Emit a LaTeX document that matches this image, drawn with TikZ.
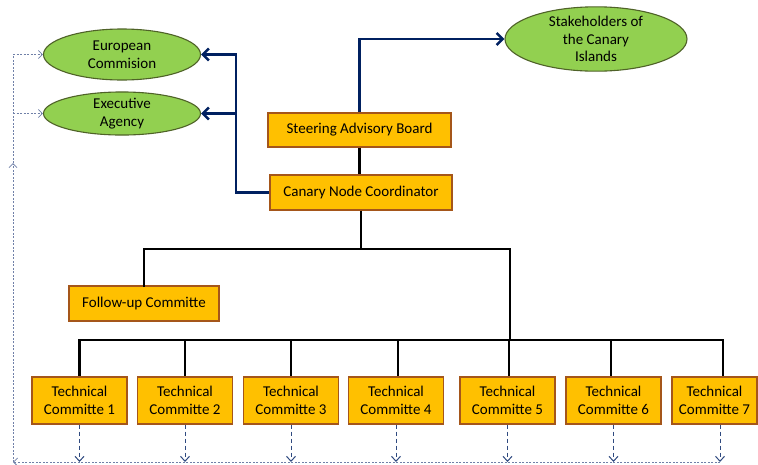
\documentclass[tikz,border=0pt]{standalone}
\usepackage{fontspec}
\setmainfont{Carlito}
\usetikzlibrary{arrows.meta,shapes.geometric}
\definecolor{elfill}{HTML}{92D050}
\definecolor{elborder}{HTML}{4F6228}
\definecolor{bxfill}{HTML}{FFC000}
\definecolor{bxborder}{HTML}{A5561A}
\definecolor{navy}{HTML}{002060}
\definecolor{dotcol}{HTML}{7080A8}
\definecolor{dashcol}{HTML}{2F4A80}
\tikzset{
  ell/.style={ellipse,draw=elborder,fill=elfill,line width=1.1pt,inner sep=0pt,align=center,font=\fontsize{15}{17.5}\selectfont},
  box/.style={rectangle,draw=bxborder,fill=bxfill,line width=1.1pt,inner sep=0pt,align=center,font=\fontsize{15}{18}\selectfont},
  tcbox/.style={box,minimum width=95pt,minimum height=47pt},
  bl/.style={draw=navy,line width=2.6pt},
  blarrow/.style={bl,-{Straight Barb[length=6pt,width=12pt]}},
  blk/.style={draw=black,line width=2.6pt},
  dotl/.style={draw=dotcol,line width=0.8pt,dash pattern=on 2pt off 1.5pt},
  dotarrow/.style={dotl,-{Straight Barb[length=4pt,width=8pt]}},
  dasharrow/.style={draw=dashcol,line width=1pt,dash pattern=on 4pt off 3pt,-{Straight Barb[length=5pt,width=9pt]}}
}
\begin{document}
\begin{tikzpicture}[x=1pt,y=-1pt]
\useasboundingbox (0,0) rectangle (758,464);
% ellipses
\node[ell,minimum width=157pt,minimum height=51pt] (ec) at (122,54.5) {European\\Commision};
\node[ell,minimum width=157pt,minimum height=43pt] (ea) at (122,113.5) {Executive\\Agency};
\node[ell,minimum width=182pt,minimum height=64pt] (sh) at (596,39) {Stakeholders of\\the Canary\\Islands};
% boxes
\node[box,minimum width=183pt,minimum height=34pt] (sab) at (359.5,130) {Steering Advisory Board};
\node[box,minimum width=182pt,minimum height=35pt] (cnc) at (361,192.5) {Canary Node Coordinator};
\node[box,minimum width=150pt,minimum height=35pt] (fu) at (144,303.5) {Follow-up Committe};
\node[tcbox] (tc1) at (79.5,400.5) {Technical\\Committe 1};
\node[tcbox] (tc2) at (185,400.5) {Technical\\Committe 2};
\node[tcbox] (tc3) at (291,400.5) {Technical\\Committe 3};
\node[tcbox] (tc4) at (396,400.5) {Technical\\Committe 4};
\node[tcbox] (tc5) at (507.5,400.5) {Technical\\Committe 5};
\node[tcbox] (tc6) at (613.5,400.5) {Technical\\Committe 6};
\node[box,minimum width=85pt,minimum height=47pt] (tc7) at (714.5,400.5) {Technical\\Committe 7};
% coordinates
\coordinate (bx) at (236,0);
\coordinate (busA) at (0,249);
\coordinate (busB) at (0,340);
\coordinate (rgt) at (510,0);
\coordinate (v4) at (398,0);
\coordinate (v5) at (509,0);
\coordinate (v6) at (611,0);
\coordinate (v7) at (723,0);
\coordinate (d7) at (720,0);
\coordinate (bot) at (0,462);
\coordinate (lft) at (13,0);
\coordinate (upmark) at (13,163);
% blue connectors
\draw[blarrow] (sab.north) |- (sh.west);
\draw[blarrow] (cnc.west) -| (bx |- ec.east) -- (ec.east);
\draw[blarrow] (bx |- ea.east) -- (ea.east);
% black tree
\draw[blk] (sab.south) -- (sab.south |- cnc.north);
\draw[blk] (cnc.south) -- (cnc.south |- busA);
\draw[blk,line cap=rect] (fu.north) -- (fu.north |- busA) -- (rgt |- busA) -- (rgt |- busB);
\draw[blk,line cap=rect] (tc1.north |- busB) -- (v7 |- busB);
\draw[blk] (tc1.north |- busB) -- (tc1.north);
\draw[blk] (tc2.north |- busB) -- (tc2.north);
\draw[blk] (tc3.north |- busB) -- (tc3.north);
\draw[blk] (v4 |- busB) -- (v4 |- tc4.north);
\draw[blk] (v5 |- busB) -- (v5 |- tc5.north);
\draw[blk] (v6 |- busB) -- (v6 |- tc6.north);
\draw[blk] (v7 |- busB) -- (v7 |- tc7.north);
% dashed arrows down
\draw[dasharrow] (tc1.south) -- (tc1.south |- bot);
\draw[dasharrow] (tc2.south) -- (tc2.south |- bot);
\draw[dasharrow] (tc3.south) -- (tc3.south |- bot);
\draw[dasharrow] (tc4.south) -- (tc4.south |- bot);
\draw[dasharrow] (tc5.south) -- (tc5.south |- bot);
\draw[dasharrow] (tc6.south) -- (tc6.south |- bot);
\draw[dasharrow] (d7 |- tc7.south) -- (d7 |- bot);
% dotted feedback
\draw[dotarrow] (d7 |- bot) -- (lft |- bot);
\draw[dotarrow] (lft |- bot) -- (upmark);
\draw[dotl] (upmark) -- (lft |- ec.west);
\draw[dotarrow] (lft |- ec.west) -- (ec.west);
\draw[dotarrow] (lft |- ea.west) -- (ea.west);
\end{tikzpicture}
\end{document}
